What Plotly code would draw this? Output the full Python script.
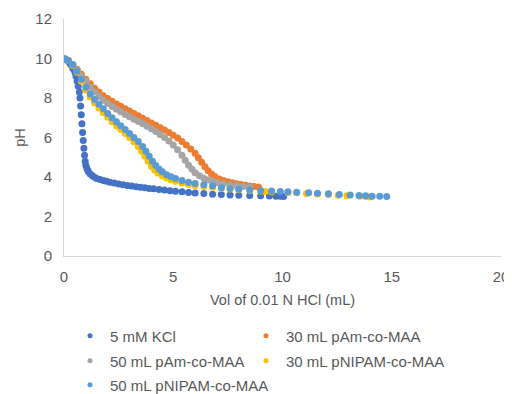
import plotly.graph_objects as go

kcl_x = [0, 0.1, 0.2, 0.3, 0.4, 0.5, 0.55, 0.6, 0.65, 0.7, 0.73, 0.76, 0.79, 0.82, 0.85, 0.88, 0.91, 0.94, 0.97, 1.0, 1.04, 1.08, 1.12, 1.2, 1.3, 1.4, 1.5, 1.65, 1.8, 1.95, 2.1, 2.3, 2.5, 2.7, 2.9, 3.1, 3.3, 3.5, 3.7, 3.9, 4.1, 4.35, 4.6, 4.85, 5.1, 5.4, 5.7, 6.0, 6.4, 6.8, 7.2, 7.6, 8.0, 8.5, 9.0, 9.4, 9.7, 9.9, 10.05]
kcl_y = [10.0, 9.95, 9.85, 9.7, 9.5, 9.3, 9.1, 8.85, 8.6, 8.3, 8.0, 7.6, 7.15, 6.7, 6.25, 5.85, 5.45, 5.1, 4.8, 4.6, 4.45, 4.35, 4.27, 4.15, 4.06, 3.99, 3.93, 3.87, 3.82, 3.78, 3.74, 3.69, 3.65, 3.61, 3.57, 3.54, 3.51, 3.48, 3.45, 3.42, 3.4, 3.37, 3.34, 3.31, 3.28, 3.25, 3.22, 3.19, 3.16, 3.13, 3.11, 3.09, 3.07, 3.06, 3.05, 3.04, 3.03, 3.02, 3.01]

pam30_x = [0, 0.2, 0.4, 0.6, 0.8, 1.0, 1.2, 1.4, 1.6, 1.8, 2.0, 2.2, 2.4, 2.6, 2.8, 3.0, 3.2, 3.4, 3.6, 3.8, 4.0, 4.2, 4.4, 4.6, 4.8, 5.0, 5.2, 5.4, 5.6, 5.8, 6.0, 6.15, 6.3, 6.45, 6.6, 6.75, 6.9, 7.1, 7.3, 7.5, 7.7, 7.9, 8.1, 8.3, 8.5, 8.7, 8.9]
pam30_y = [10.0, 9.9, 9.7, 9.45, 9.2, 8.95, 8.72, 8.5, 8.3, 8.12, 7.97, 7.83, 7.7, 7.58, 7.46, 7.34, 7.22, 7.1, 6.98, 6.86, 6.74, 6.62, 6.5, 6.38, 6.25, 6.12, 5.97, 5.8, 5.62, 5.42, 5.2, 4.98, 4.75, 4.52, 4.32, 4.15, 4.02, 3.9, 3.82, 3.76, 3.71, 3.66, 3.62, 3.58, 3.55, 3.52, 3.5]

pam50_x = [0, 0.2, 0.4, 0.6, 0.8, 1.0, 1.2, 1.4, 1.6, 1.8, 2.0, 2.2, 2.4, 2.6, 2.8, 3.0, 3.2, 3.4, 3.6, 3.8, 4.0, 4.2, 4.4, 4.6, 4.8, 5.0, 5.2, 5.4, 5.55, 5.7, 5.85, 6.0, 6.2, 6.4, 6.6, 6.8, 7.0, 7.3, 7.6, 7.9, 8.2, 8.5]
pam50_y = [10.0, 9.9, 9.7, 9.42, 9.12, 8.82, 8.55, 8.3, 8.08, 7.88, 7.72, 7.57, 7.43, 7.3, 7.17, 7.05, 6.93, 6.81, 6.69, 6.57, 6.44, 6.3, 6.15, 6.0, 5.82, 5.62, 5.38, 5.1, 4.85, 4.6, 4.4, 4.22, 4.06, 3.94, 3.85, 3.78, 3.72, 3.66, 3.6, 3.56, 3.52, 3.49]

pnipam30_x = [0, 0.2, 0.4, 0.6, 0.8, 1.0, 1.2, 1.4, 1.6, 1.8, 2.0, 2.2, 2.4, 2.6, 2.8, 3.0, 3.2, 3.4, 3.55, 3.7, 3.85, 4.0, 4.15, 4.3, 4.5, 4.7, 4.9, 5.1, 5.4, 5.7, 6.0, 6.4, 6.8, 7.2, 7.6, 8.0, 8.5, 9.0, 9.2, 9.5, 10.25, 10.65, 11.1, 11.6, 12.1, 12.55, 12.95, 13.55, 13.85, 14.0]
pnipam30_y = [10.0, 9.9, 9.65, 9.3, 8.85, 8.4, 8.05, 7.75, 7.5, 7.25, 7.02, 6.8, 6.6, 6.4, 6.2, 6.0, 5.78, 5.55, 5.3, 5.05, 4.8, 4.55, 4.35, 4.2, 4.06, 3.95, 3.86, 3.79, 3.7, 3.63, 3.57, 3.52, 3.48, 3.42, 3.39, 3.36, 3.32, 3.29, 3.27, 3.25, 3.22, 3.2, 3.17, 3.14, 3.11, 3.08, 3.05, 3.02, 3.0, 2.99]

pnipam50_x = [0, 0.2, 0.4, 0.6, 0.8, 1.0, 1.2, 1.4, 1.6, 1.8, 2.0, 2.2, 2.4, 2.6, 2.8, 3.0, 3.2, 3.4, 3.6, 3.75, 3.9, 4.05, 4.2, 4.35, 4.5, 4.7, 4.9, 5.1, 5.4, 5.7, 6.0, 6.4, 6.8, 7.2, 7.6, 8.0, 8.5, 9.0, 9.5, 9.9, 10.25, 10.65, 11.2, 11.6, 12.1, 12.6, 13.1, 13.5, 13.8, 14.1, 14.45, 14.77]
pnipam50_y = [10.0, 9.9, 9.68, 9.35, 8.95, 8.55, 8.2, 7.92, 7.68, 7.45, 7.22, 7.0, 6.8, 6.6, 6.4, 6.2, 6.0, 5.8, 5.55, 5.3, 5.05, 4.8, 4.58, 4.4, 4.26, 4.12, 4.01, 3.92, 3.82, 3.74, 3.67, 3.61, 3.56, 3.45, 3.42, 3.38, 3.34, 3.31, 3.29, 3.27, 3.25, 3.23, 3.2, 3.18, 3.15, 3.12, 3.09, 3.06, 3.05, 3.03, 3.02, 3.01]

series_names = ["5 mM KCl", "30 mL pAm-co-MAA", "50 mL pAm-co-MAA",
                "30 mL pNIPAM-co-MAA", "50 mL pNIPAM-co-MAA"]
series_x = [kcl_x, pam30_x, pam50_x, pnipam30_x, pnipam50_x]
series_y = [kcl_y, pam30_y, pam50_y, pnipam30_y, pnipam50_y]
colors = ["#4472C4", "#ED7D31", "#A5A5A5", "#FFC000", "#5B9BD5"]

x_ticks = [0, 5, 10, 15, 20]
y_ticks = [0, 2, 4, 6, 8, 10, 12]

# the page body has an 8px margin: figure is drawn at (8, 8)
OFF = 8
W, H = 512 - OFF, 394 - OFF

# legend slots (page px): left x of each entry, row centre y
leg_ids = ["legend", "legend2", "legend3", "legend4", "legend5"]
leg_px_x = [70, 246, 70, 246, 70]
leg_px_y = [336, 336, 361, 361, 385]

fig = go.Figure()
for name, xs, ys, col in zip(series_names, series_x, series_y, colors):
    fig.add_trace(go.Scatter(x=xs, y=ys, mode="markers", name=name, showlegend=False,
                             marker=dict(color=col, size=7, line=dict(width=0))))
# legend entries (small symbols, like the reference)
for name, col, lg in zip(series_names, colors, leg_ids):
    fig.add_trace(go.Scatter(x=[None], y=[None], mode="markers", name=name,
                             legend=lg, showlegend=True,
                             marker=dict(color=col, size=5)))

font_col = "#595959"


def xpos(px):
    return (px - OFF) / W


def ypos(px):
    return 1 - (px - OFF) / H


legends = {}
for lg, px, py in zip(leg_ids, leg_px_x, leg_px_y):
    legends[lg] = dict(orientation="h", xanchor="left", yanchor="middle",
                       xref="container", yref="container",
                       x=xpos(px), y=ypos(py),
                       font=dict(size=15, color=font_col),
                       bgcolor="rgba(0,0,0,0)", itemwidth=30)

fig.update_layout(
    width=W, height=H,
    margin=dict(l=64 - OFF, r=11, t=19 - OFF, b=138, autoexpand=False),
    paper_bgcolor="white", plot_bgcolor="white",
    font=dict(family="Liberation Sans, Arial, sans-serif", size=14, color=font_col),
    xaxis=dict(range=[0, 20], tickvals=x_ticks, showgrid=False, zeroline=False,
               showline=True, linecolor="#D9D9D9", linewidth=1, ticks="",
               automargin=False, ticklabelstandoff=7,
               title=dict(text="Vol of 0.01 N HCl (mL)", standoff=10, font=dict(size=14.5)),
               tickfont=dict(size=15)),
    yaxis=dict(range=[0, 12], tickvals=y_ticks, showgrid=False, zeroline=False,
               showline=True, linecolor="#D9D9D9", linewidth=1, ticks="",
               automargin=False, ticklabelstandoff=8,
               title=dict(text="pH", standoff=6, font=dict(size=14.5)),
               tickfont=dict(size=15)),
    showlegend=True,
    **legends,
)

fig.write_html("out.html")
